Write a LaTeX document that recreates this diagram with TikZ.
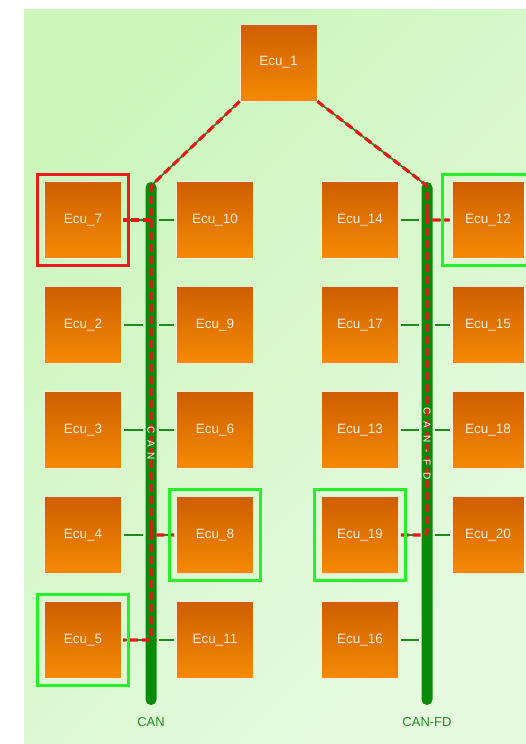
\documentclass[tikz,border=0pt]{standalone}
\usepackage{fontspec}
\setmainfont{Liberation Sans}
\usetikzlibrary{calc}
\definecolor{bgA}{RGB}{204,246,188}
\definecolor{bgB}{RGB}{230,250,224}
\definecolor{ecuTop}{RGB}{206,94,0}
\definecolor{ecuBot}{RGB}{246,138,4}
\definecolor{ecuText}{RGB}{252,238,220}
\definecolor{busG}{RGB}{10,138,10}
\definecolor{linkG}{RGB}{28,140,28}
\definecolor{hlRed}{RGB}{232,24,24}
\definecolor{frRed}{RGB}{230,30,30}
\definecolor{frGreen}{RGB}{40,240,40}
\definecolor{lblG}{RGB}{30,145,30}
\begin{document}
\begin{tikzpicture}[x=1pt,y=1pt,
 ecu/.style={rectangle, minimum width=77pt, minimum height=77pt, inner sep=0pt, draw=white, draw opacity=0.85, line width=0.8pt, top color=ecuTop, bottom color=ecuBot, text=ecuText, font=\fontsize{13.5}{15}\selectfont},
 ecuN/.style={ecu, minimum width=72pt},
 bus/.style={rectangle, rounded corners=5.5pt, fill=busG, minimum width=11pt, minimum height=523pt, inner sep=0pt},
 link/.style={draw=linkG, line width=1.8pt, shorten <=2pt, shorten >=2pt},
 dlink/.style={draw=linkG, line width=1.6pt},
 hl/.style={draw=hlRed, line width=3.2pt, dash pattern=on 8pt off 4pt, rounded corners=3pt},
 hlframe/.style={rectangle, minimum width=91pt, minimum height=91pt, inner sep=0pt, line width=2.2pt},
 buslbl/.style={text=white, font=\fontsize{10}{11}\selectfont, rotate=-90, inner sep=0pt},
 lbl/.style={text=lblG, font=\fontsize{13}{14}\selectfont}]
\useasboundingbox (0,0) rectangle (526,-744);
\shade[top color=bgA, bottom color=bgB, shading angle=45] (24,-9) rectangle (526,-744);

% buses
\node[bus] (can) at (151,-443.5) {};
\node[bus] (canfd) at (427,-443.5) {};

% ECUs
\node[ecu] (ecu1) at (278.5,-62.5) {Ecu\_1};

\node[ecu] (ecu7) at (83,-220) {Ecu\_7};
\node[ecu] (ecu10) at (215,-220) {Ecu\_10};
\node[ecu] (ecu14) at (360,-220) {Ecu\_14};
\node[ecuN] (ecu12) at (488,-220) {Ecu\_12};

\node[ecu] (ecu2) at (83,-325) {Ecu\_2};
\node[ecu] (ecu9) at (215,-325) {Ecu\_9};
\node[ecu] (ecu17) at (360,-325) {Ecu\_17};
\node[ecuN] (ecu15) at (488,-325) {Ecu\_15};

\node[ecu] (ecu3) at (83,-430) {Ecu\_3};
\node[ecu] (ecu6) at (215,-430) {Ecu\_6};
\node[ecu] (ecu13) at (360,-430) {Ecu\_13};
\node[ecuN] (ecu18) at (488,-430) {Ecu\_18};

\node[ecu] (ecu4) at (83,-535) {Ecu\_4};
\node[ecu] (ecu8) at (215,-535) {Ecu\_8};
\node[ecu] (ecu19) at (360,-535) {Ecu\_19};
\node[ecuN] (ecu20) at (488,-535) {Ecu\_20};

\node[ecu] (ecu5) at (83,-640) {Ecu\_5};
\node[ecu] (ecu11) at (215,-640) {Ecu\_11};
\node[ecu] (ecu16) at (360,-640) {Ecu\_16};

% green links
\draw[dlink] (ecu1.south west) -- ([yshift=-4pt]can.north);
\draw[dlink] (ecu1.south east) -- ([yshift=-4pt]canfd.north);
\foreach \e in {ecu7,ecu2,ecu3,ecu4,ecu5}{\draw[link] (\e.east) -- (\e.east -| can.west);}
\foreach \e in {ecu10,ecu9,ecu6,ecu8,ecu11}{\draw[link] (\e.west) -- (\e.west -| can.east);}
\foreach \e in {ecu14,ecu17,ecu13,ecu19,ecu16}{\draw[link] (\e.east) -- (\e.east -| canfd.west);}
\foreach \e in {ecu12,ecu15,ecu18,ecu20}{\draw[link] (\e.west) -- (\e.west -| canfd.east);}

% highlighted route
\draw[hl] (ecu1.south west) -- ([yshift=-4pt]can.north) -- (can.center |- ecu5) -- ([xshift=1pt]ecu5.east);
\draw[hl] (can.center |- ecu7) -- ([xshift=1pt]ecu7.east);
\draw[hl] ([yshift=8pt]can.center |- ecu8) -- (can.center |- ecu8) -- ([xshift=-2pt]ecu8.west);
\draw[hl] (ecu1.south east) -- ([yshift=-4pt]canfd.north) -- (canfd.center |- ecu19) -- ([xshift=2pt]ecu19.east);
\draw[hl] ([yshift=8pt]canfd.center |- ecu12) -- (canfd.center |- ecu12) -- ([xshift=-2pt]ecu12.west);

% bus labels
\node[buslbl] (canV) at (can.center) {C\hspace{6pt}A\hspace{6pt}N};
\node[buslbl] (canfdV) at (canfd.center) {C\hspace{7pt}A\hspace{7pt}N\hspace{7pt}-\hspace{7pt}F\hspace{7pt}D};

% frames
\node[hlframe, draw=frRed] (fr7) at (ecu7) {};
\node[hlframe, draw=frGreen] (fr12) at (ecu12) {};
\node[hlframe, draw=frGreen] (fr8) at (ecu8) {};
\node[hlframe, draw=frGreen] (fr19) at (ecu19) {};
\node[hlframe, draw=frGreen] (fr5) at (ecu5) {};

% bottom labels
\node[lbl] (canB) at (151,-722) {CAN};
\node[lbl] (canfdB) at (427,-722) {CAN-FD};
\end{tikzpicture}
\end{document}
